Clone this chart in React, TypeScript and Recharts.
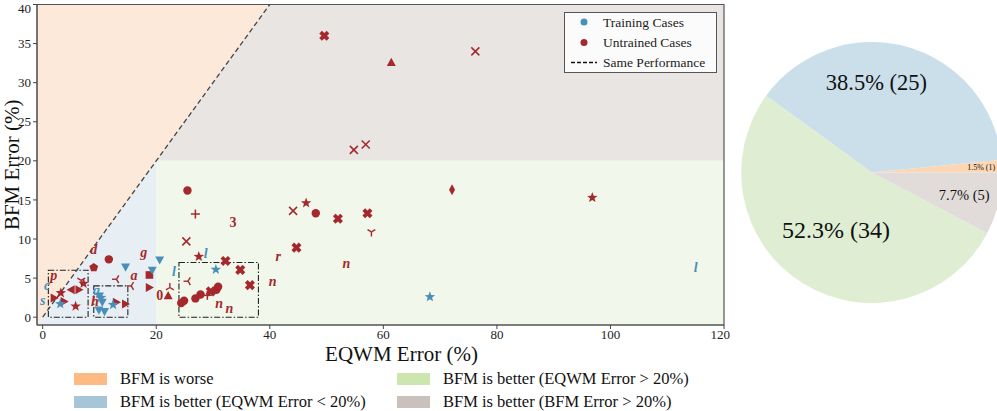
import React from 'react';
import {
    ScatterChart,
    Scatter,
    XAxis,
    YAxis,
    ReferenceArea,
    ReferenceLine,
    Label,
    PieChart,
    Pie,
    Cell
} from 'recharts';

const RED = '#a4282c';
const BLUE = '#4a8fb8';
const FONT = 'Liberation Serif';

const X_TICKS = [0, 20, 40, 60, 80, 100, 120];
const Y_TICKS = [0, 5, 10, 15, 20, 25, 30, 35, 40];

// Training cases (blue)
const TRAIN_X = [0, 0.8, 3.1, 10.3, 12.4, 10.0, 10.5, 9.9, 10.9, 9.5, 14.6, 19.3, 20.6, 23.1, 28.7, 30.5, 68.2, 115.0];
const TRAIN_Y = [2.1, 4.0, 1.7, 2.5, 1.6, 2.7, 1.9, 0.9, 0.7, 3.4, 6.4, 6.0, 7.3, 5.8, 8.1, 6.1, 2.6, 6.3];
const TRAIN_MARKERS = ['$s$', '$c$', '*', '*', '*', 'v', 'v', 'v', 'v', '$q$', 'v', 'v', 'v', '$l$', '$l$', '*', '*', '$l$'];

// Untrained cases (red)
const UNTRAINED_X = [
    1.95, 2.05, 3.2, 3.8, 5.0, 6.4, 5.8, 7.2, 6.8, 9.0, 9.0, 11.65, 9.2, 13.0, 14.6, 13.0, 15.6, 16.1, 17.8, 18.8,
    18.8, 20.6, 22.1, 22.4, 25.6, 24.4, 24.9, 26.9, 27.8, 30.6, 30.9, 29.6, 29.0, 31.1, 32.9, 25.5, 26.9, 33.5, 25.3, 27.5,
    32.2, 34.8, 36.5, 40.5, 41.5, 44.1, 46.4, 48.1, 44.7, 52.0, 53.5, 57.2, 57.9, 72.1, 96.8, 49.6, 76.2, 61.4, 54.8, 56.9
];
const UNTRAINED_Y = [
    5.3, 2.45, 3.1, 2.0, 3.5, 3.5, 1.4, 4.3, 4.7, 6.35, 8.6, 7.4, 2.0, 1.9, 1.7, 4.85, 4.0, 5.3, 8.3, 5.4,
    3.8, 2.76, 2.76, 3.8, 4.6, 1.8, 2.1, 2.4, 2.9, 3.5, 3.9, 3.3, 2.8, 1.7, 1.1, 16.2, 13.2, 12.1, 9.7, 7.75,
    7.2, 6.05, 4.1, 4.55, 7.75, 13.6, 14.6, 13.3, 8.9, 12.6, 6.9, 13.3, 10.9, 16.3, 15.3, 36.0, 34.0, 32.6, 21.4, 22.1
];
const UNTRAINED_MARKERS = [
    '$p$', '>', '*', '>', '<', '>', '*', '*', '1', 'p', '$d$', 'o', '$h$', '>', '>', '3', '3', '$a$', '$g$', 's',
    '>', '$0$', '^', '2', '3', 'o', 'o', 'o', 'o', 'o', 'o', 'X', '+', '$n$', '$n$', 'o', '+', '$3$', 'x', '*',
    'X', 'X', 'X', '$n$', '$r$', 'x', '*', 'o', 'X', 'X', '$n$', 'X', '1', 'd', '*', 'X', 'x', '^', 'x', 'x'
];

// Region summary (pie + figure legend)
const REGION_NAMES = [
    'BFM is worse',
    'BFM is better (EQWM Error < 20%)',
    'BFM is better (EQWM Error > 20%)',
    'BFM is better (BFM Error > 20%)'
];
const REGION_COUNTS = [1, 25, 34, 5];

const REGION_BG = ['#fde9d9', '#e7eff4', '#f1f7ea', '#e9e5e2'];
const PIE_COLORS = ['#fdd6b4', '#cadfea', '#dfeed3', '#e1dcda'];
const LEGEND_COLORS = ['#fdba82', '#a6c5d7', '#cde6b0', '#cbc1bc'];
const PIE_LABEL_STYLE = [
    { r: 0.84, size: 8 },
    { r: 0.69, size: 22.5, angle: 87 },
    { r: 0.52, size: 24 },
    { r: 0.73, size: 14.5 }
];

const trainData = TRAIN_X.map((x, i) => ({ x, y: TRAIN_Y[i], marker: TRAIN_MARKERS[i] }));
const untrainedData = UNTRAINED_X.map((x, i) => ({ x, y: UNTRAINED_Y[i], marker: UNTRAINED_MARKERS[i] }));
const pieData = REGION_NAMES.map((name, i) => ({ name, value: REGION_COUNTS[i] }));

function polyPoints(cx: number, cy: number, n: number, rOuter: number, rInner: number, rot: number) {
    const pts: string[] = [];
    const count = rInner > 0 ? n * 2 : n;
    for (let k = 0; k < count; k++) {
        const r = rInner > 0 && k % 2 === 1 ? rInner : rOuter;
        const a = rot + (k * 2 * Math.PI) / count;
        pts.push(`${cx + r * Math.sin(a)},${cy - r * Math.cos(a)}`);
    }
    return pts.join(' ');
}

function MarkerShape(props: any) {
    const { cx, cy, fill, payload } = props;
    if (cx == null || cy == null) return null;
    const m: string = payload.marker;
    if (m.startsWith('$')) {
        const ch = m.slice(1, -1);
        const digit = /\d/.test(ch);
        return (
            <text x={cx} y={cy} fill={fill} fontFamily={FONT} fontSize={14} fontWeight="bold"
                fontStyle={digit ? 'normal' : 'italic'} textAnchor="middle" dominantBaseline="central">
                {ch}
            </text>
        );
    }
    const s = 4.5;
    switch (m) {
        case 'o':
            return <circle cx={cx} cy={cy} r={4.2} fill={fill} />;
        case '*':
            return <polygon points={polyPoints(cx, cy, 5, 5.5, 2.3, 0)} fill={fill} />;
        case 'p':
            return <polygon points={polyPoints(cx, cy, 5, 4.6, 0, 0)} fill={fill} />;
        case 'v':
            return <polygon points={`${cx - s},${cy - s * 0.8} ${cx + s},${cy - s * 0.8} ${cx},${cy + s}`} fill={fill} />;
        case '^':
            return <polygon points={`${cx - s},${cy + s * 0.8} ${cx + s},${cy + s * 0.8} ${cx},${cy - s}`} fill={fill} />;
        case '>':
            return <polygon points={`${cx - s * 0.8},${cy - s} ${cx - s * 0.8},${cy + s} ${cx + s},${cy}`} fill={fill} />;
        case '<':
            return <polygon points={`${cx + s * 0.8},${cy - s} ${cx + s * 0.8},${cy + s} ${cx - s},${cy}`} fill={fill} />;
        case 's':
            return <rect x={cx - 3.8} y={cy - 3.8} width={7.6} height={7.6} fill={fill} />;
        case 'd':
            return <polygon points={`${cx},${cy - 5.5} ${cx + 3},${cy} ${cx},${cy + 5.5} ${cx - 3},${cy}`} fill={fill} />;
        case 'x':
            return (
                <g stroke={fill} strokeWidth={1.5}>
                    <line x1={cx - 4} y1={cy - 4} x2={cx + 4} y2={cy + 4} />
                    <line x1={cx - 4} y1={cy + 4} x2={cx + 4} y2={cy - 4} />
                </g>
            );
        case '+':
            return (
                <g stroke={fill} strokeWidth={1.5}>
                    <line x1={cx - 4.5} y1={cy} x2={cx + 4.5} y2={cy} />
                    <line x1={cx} y1={cy - 4.5} x2={cx} y2={cy + 4.5} />
                </g>
            );
        case 'X':
            return (
                <g fill={fill} transform={`translate(${cx},${cy}) rotate(45)`}>
                    <rect x={-5.2} y={-1.9} width={10.4} height={3.8} />
                    <rect x={-1.9} y={-5.2} width={3.8} height={10.4} />
                </g>
            );
        default: {
            // tri markers: '1' down, '2' up, '3' left, '4' right
            const rot = { '1': 0, '2': 180, '3': 90, '4': -90 }[m] ?? 0;
            return (
                <g stroke={fill} strokeWidth={1.4} transform={`translate(${cx},${cy}) rotate(${rot})`}>
                    <line x1={0} y1={0} x2={0} y2={4.5} />
                    <line x1={0} y1={0} x2={-3.9} y2={-2.3} />
                    <line x1={0} y1={0} x2={3.9} y2={-2.3} />
                </g>
            );
        }
    }
}

const UpperLeftTriangle = (p: any) => (
    <path d={`M${p.x},${p.y} L${p.x},${p.y + p.height} L${p.x + p.width},${p.y} Z`} fill={p.fill} />
);
const LowerRightTriangle = (p: any) => (
    <path d={`M${p.x},${p.y + p.height} L${p.x + p.width},${p.y + p.height} L${p.x + p.width},${p.y} Z`} fill={p.fill} />
);

const RADIAN = Math.PI / 180;
function renderPieLabel(props: any) {
    const { cx, cy, midAngle, outerRadius, percent, value, index } = props;
    const st = PIE_LABEL_STYLE[index];
    const ang = st.angle ?? midAngle;
    const r = outerRadius * st.r;
    const x = cx + r * Math.cos(-ang * RADIAN);
    const y = cy + r * Math.sin(-ang * RADIAN);
    return (
        <text x={x} y={y} fill="#111" fontFamily={FONT} fontSize={st.size} textAnchor="middle" dominantBaseline="central">
            {`${(percent * 100).toFixed(1)}% (${value})`}
        </text>
    );
}

const tickStyle = { fontSize: 13, fill: '#222', fontFamily: FONT };

export default function App() {
    return (
        <div style={{ position: 'absolute', left: 0, top: 0, width: 997, height: 411, background: '#fff', fontFamily: FONT }}>
            <div style={{ position: 'absolute', left: 0, top: 0 }}>
                <ScatterChart width={730} height={411} margin={{ top: 4.5, right: 6, bottom: 48, left: 0 }}
                    style={{ fontFamily: FONT }}>
                    <XAxis type="number" dataKey="x" domain={[-1, 120]} ticks={X_TICKS} allowDataOverflow
                        height={38} tick={tickStyle} tickSize={4} tickMargin={1} tickLine={{ stroke: '#444' }} axisLine={{ stroke: '#555' }}>
                        <Label content={(p: any) => (
                            <text x={p.viewBox.x + p.viewBox.width / 2 + 21} y={p.viewBox.y + 36} textAnchor="middle"
                                fontFamily={FONT} fontSize={21} fill="#111">EQWM Error (%)</text>
                        )} />
                    </XAxis>
                    <YAxis type="number" dataKey="y" domain={[-1, 40]} ticks={Y_TICKS} allowDataOverflow
                        width={37} tick={tickStyle} tickSize={4} tickLine={{ stroke: '#444' }} axisLine={{ stroke: '#555' }}>
                        <Label content={(p: any) => {
                            const x = 11.5;
                            const y = p.viewBox.y + p.viewBox.height / 2;
                            return (
                                <text x={x} y={y} transform={`rotate(-90, ${x}, ${y})`} textAnchor="middle"
                                    dominantBaseline="central" fontFamily={FONT} fontSize={21} fill="#111">BFM Error (%)</text>
                            );
                        }} />
                    </YAxis>

                    <ReferenceArea x1={20} x2={120} y1={20} y2={40} fill={REGION_BG[3]} fillOpacity={1} />
                    <ReferenceArea x1={20} x2={120} y1={-1} y2={20} fill={REGION_BG[2]} fillOpacity={1} />
                    <ReferenceArea x1={-1} x2={20} y1={-1} y2={20} fill={REGION_BG[1]} fillOpacity={1} shape={LowerRightTriangle} />
                    <ReferenceArea x1={-1} x2={40} y1={-1} y2={40} fill={REGION_BG[0]} fillOpacity={1} shape={UpperLeftTriangle} />

                    <ReferenceLine segment={[{ x: 0, y: 0 }, { x: 40, y: 40 }]} stroke="#444" strokeWidth={1.3} strokeDasharray="5 3" />

                    <ReferenceArea x1={1} x2={8} y1={0} y2={6} fill="none" stroke="#222" strokeWidth={1.1} strokeDasharray="6 2 1.5 2" />
                    <ReferenceArea x1={9} x2={15} y1={0} y2={4} fill="none" stroke="#222" strokeWidth={1.1} strokeDasharray="6 2 1.5 2" />
                    <ReferenceArea x1={24} x2={38} y1={0} y2={7} fill="none" stroke="#222" strokeWidth={1.1} strokeDasharray="6 2 1.5 2" />

                    <Scatter name="Untrained Cases" data={untrainedData} fill={RED} shape={MarkerShape} isAnimationActive={false} />
                    <Scatter name="Training Cases" data={trainData} fill={BLUE} shape={MarkerShape} isAnimationActive={false} />

                    <ReferenceArea x1={-1} x2={120} y1={-1} y2={40} fill="none" stroke="#555" strokeWidth={1.2} />
                </ScatterChart>
            </div>

            {/* legend inside the scatter axes */}
            <div style={{ position: 'absolute', left: 564, top: 11.5, width: 153, height: 61.5, border: '1px solid #555',
                background: 'rgba(255,255,255,0.85)', boxSizing: 'border-box' }}>
                <svg width={153} height={61} style={{ position: 'absolute', left: 0, top: 0 }}>
                    <circle cx={19} cy={9} r={3.5} fill={BLUE} />
                    <circle cx={19} cy={29.5} r={3.5} fill={RED} />
                    <line x1={6} x2={32} y1={49.5} y2={49.5} stroke="#111" strokeWidth={1.5} strokeDasharray="4 2" />
                    {['Training Cases', 'Untrained Cases', 'Same Performance'].map((t, i) => (
                        <text key={t} x={38} y={9 + i * 20.3} dominantBaseline="central" fontFamily={FONT} fontSize={13.5} fill="#222">{t}</text>
                    ))}
                </svg>
            </div>

            {/* figure legend below */}
            {REGION_NAMES.map((name, i) => {
                const col = Math.floor(i / 2);
                const row = i % 2;
                const left = col === 0 ? 74 : 397;
                const top = row === 0 ? 373 : 396;
                return (
                    <div key={name} style={{ position: 'absolute', left, top, height: 12, whiteSpace: 'nowrap' }}>
                        <div style={{ position: 'absolute', left: 0, top: 0, width: 33, height: 11.5, background: LEGEND_COLORS[i] }} />
                        <div style={{ position: 'absolute', left: 46, top: -4, fontSize: 16.5, lineHeight: '20px', color: '#111',
                            fontFamily: FONT }}>{name}</div>
                    </div>
                );
            })}

            <div style={{ position: 'absolute', left: 730, top: 0 }}>
                <PieChart width={267} height={340}>
                    <Pie data={pieData} dataKey="value" cx={136.7} cy={167.5} outerRadius={130.5} startAngle={0} endAngle={360}
                        stroke="none" label={renderPieLabel} labelLine={false} isAnimationActive={false}>
                        {pieData.map((d, i) => <Cell key={d.name} fill={PIE_COLORS[i]} />)}
                    </Pie>
                </PieChart>
            </div>
        </div>
    );
}
